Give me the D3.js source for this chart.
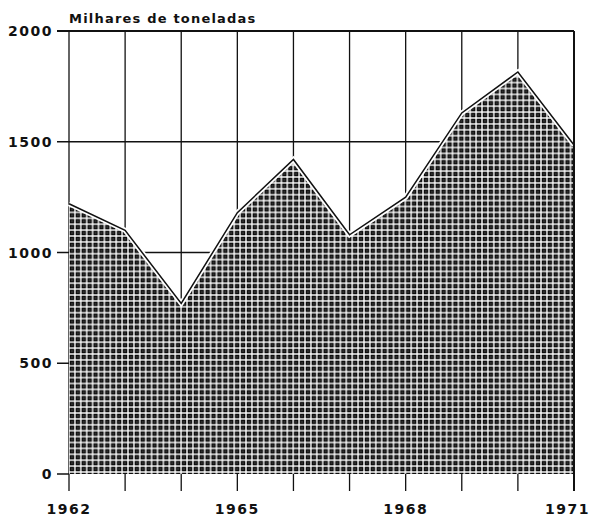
<!DOCTYPE html>
<html>
<head>
<meta charset="utf-8">
<script src="https://cdn.jsdelivr.net/npm/d3@7"></script>
<style>
  body { margin: 0; background: #fff; }
  text { font-family: "DejaVu Sans", sans-serif; fill: #111; }
</style>
</head>
<body>
<div id="chart"></div>
<script>
// data
const years = [1962, 1963, 1964, 1965, 1966, 1967, 1968, 1969, 1970, 1971];
const values = [1220, 1100, 770, 1180, 1420, 1080, 1250, 1630, 1815, 1485];
const yTicks = [0, 500, 1000, 1500, 2000];
const xLabels = [1962, 1965, 1968, 1971];
const unitLabel = "Milhares de toneladas";

let width = 592,
    height = 518,
    margin = {top: 31, right: 18, bottom: 44, left: 69},
    cell = 5.9;

const svg = d3.select("#chart").append("svg")
    .attr("width", width)
    .attr("height", height);

const x = d3.scaleLinear()
    .domain([1962, 1971])
    .range([margin.left, width - margin.right]);

const y = d3.scaleLinear()
    .domain([0, 2000])
    .range([height - margin.bottom, margin.top]);

const data = years.map((yr, i) => ({year: yr, value: values[i]}));

// checkered fill
const defs = svg.append("defs");
const pat = defs.append("pattern")
    .attr("id", "checks")
    .attr("patternUnits", "userSpaceOnUse")
    .attr("width", cell)
    .attr("height", cell)
    .attr("x", margin.left)
    .attr("y", 0);
pat.append("rect").attr("width", cell).attr("height", cell).attr("fill", "#fff");
pat.append("rect")
    .attr("x", 0.7).attr("y", 0.7)
    .attr("width", 4.5).attr("height", 4.5)
    .attr("fill", "#0d0d0d");
pat.append("rect")
    .attr("x", 2.45).attr("y", 2.45)
    .attr("width", 1).attr("height", 1)
    .attr("fill", "#888");

// grid
const grid = svg.append("g").attr("stroke", "#111").attr("fill", "none");
grid.selectAll("line.v")
    .data(years)
    .enter().append("line")
    .attr("class", "v")
    .attr("x1", d => x(d)).attr("x2", d => x(d))
    .attr("y1", y(2000)).attr("y2", y(0) + 17)
    .attr("stroke-width", 1.3);
grid.selectAll("line.h")
    .data(yTicks.filter(d => d > 0))
    .enter().append("line")
    .attr("class", "h")
    .attr("x1", x(1962) - 12).attr("x2", x(1971))
    .attr("y1", d => y(d)).attr("y2", d => y(d))
    .attr("stroke-width", d => d === 2000 ? 2.2 : 1.3);
grid.append("line")
    .attr("x1", x(1962) - 12).attr("x2", x(1962))
    .attr("y1", y(0)).attr("y2", y(0))
    .attr("stroke-width", 1.5);

// area
const area = d3.area()
    .x(d => x(d.year))
    .y0(y(0))
    .y1(d => y(d.value));
const line = d3.line()
    .x(d => x(d.year))
    .y(d => y(d.value));

svg.append("path")
    .datum(data)
    .attr("d", area)
    .attr("fill", "url(#checks)");

svg.append("path")
    .datum(data)
    .attr("d", line)
    .attr("fill", "none")
    .attr("stroke", "#fff")
    .attr("stroke-width", 5);

svg.append("path")
    .datum(data)
    .attr("d", line)
    .attr("fill", "none")
    .attr("stroke", "#111")
    .attr("stroke-width", 1.5);

// right border stays visible over the fill
svg.append("line")
    .attr("x1", x(1971)).attr("x2", x(1971))
    .attr("y1", y(2000)).attr("y2", y(0) + 17)
    .attr("stroke", "#111")
    .attr("stroke-width", 2);

// axis labels
svg.append("g").selectAll("text")
    .data(yTicks)
    .enter().append("text")
    .attr("x", x(1962) - 16)
    .attr("y", d => y(d) + 5)
    .attr("text-anchor", "end")
    .style("font-size", "14px")
    .style("font-weight", "bold")
    .style("letter-spacing", "1.5px")
    .text(d => d);

svg.append("g").selectAll("text")
    .data(xLabels)
    .enter().append("text")
    .attr("x", d => d === 1971 ? width - 2 : x(d))
    .attr("y", height - 4)
    .attr("text-anchor", d => d === 1971 ? "end" : "middle")
    .style("font-size", "14px")
    .style("font-weight", "bold")
    .style("letter-spacing", "1.5px")
    .text(d => d);

svg.append("text")
    .attr("x", x(1962))
    .attr("y", 23)
    .style("font-size", "13px")
    .style("font-weight", "bold")
    .style("letter-spacing", "1.2px")
    .text(unitLabel);
</script>
</body>
</html>
